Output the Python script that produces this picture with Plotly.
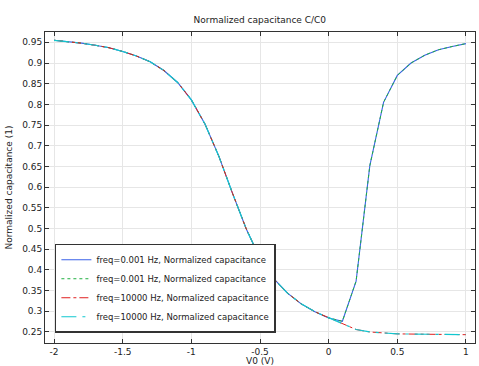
import plotly.graph_objects as go

v0 = [-2.0, -1.9, -1.8, -1.7, -1.6, -1.5, -1.4, -1.3, -1.2, -1.1, -1.0,
      -0.9, -0.8, -0.7, -0.6, -0.5, -0.4, -0.3, -0.2, -0.1, 0.0,
      0.1, 0.2, 0.3, 0.4, 0.5, 0.6, 0.7, 0.8, 0.9, 1.0]

c_low = [0.955, 0.952, 0.948, 0.943, 0.937, 0.928, 0.917, 0.903, 0.882, 0.853, 0.811,
         0.752, 0.675, 0.585, 0.499, 0.428, 0.379, 0.344, 0.318, 0.299, 0.284,
         0.276, 0.373, 0.652, 0.805, 0.870, 0.900, 0.919, 0.932, 0.940, 0.947]

c_high = [0.955, 0.952, 0.948, 0.943, 0.937, 0.928, 0.917, 0.903, 0.882, 0.853, 0.811,
          0.752, 0.675, 0.585, 0.499, 0.428, 0.379, 0.344, 0.318, 0.299, 0.284,
          0.270, 0.256, 0.250, 0.247, 0.2455, 0.245, 0.2445, 0.244, 0.2437, 0.2435]

names = ["freq=0.001 Hz, Normalized capacitance",
         "freq=0.001 Hz, Normalized capacitance",
         "freq=10000 Hz, Normalized capacitance",
         "freq=10000 Hz, Normalized capacitance"]

xticks = [-2, -1.5, -1, -0.5, 0, 0.5, 1]
xticklabels = ["-2", "-1.5", "-1", "-0.5", "0", "0.5", "1"]
yticks = [0.25, 0.3, 0.35, 0.4, 0.45, 0.5, 0.55, 0.6, 0.65, 0.7, 0.75, 0.8, 0.85, 0.9, 0.95]
yticklabels = ["0.25", "0.3", "0.35", "0.4", "0.45", "0.5", "0.55", "0.6", "0.65",
               "0.7", "0.75", "0.8", "0.85", "0.9", "0.95"]

series = [
    (c_low, "#3a62e8", "solid", 1.1),
    (c_low, "#20b040", "dot", 1.0),
    (c_high, "#e02020", "dashdot", 1.0),
    (c_high, "#10c8d0", "longdashdot", 1.2),
]

fig = go.Figure()
for (vals, col, dash, w), nm in zip(series, names):
    fig.add_trace(go.Scatter(x=v0, y=vals, mode="lines", name=nm,
                             line=dict(color=col, width=w, dash=dash)))

axis_common = dict(
    showline=True, linecolor="#333333", linewidth=1, mirror="ticks",
    ticks="inside", ticklen=4, tickcolor="#333333", automargin=False,
    showgrid=True, gridcolor="#e6e6e6", gridwidth=1, zeroline=False,
    tickfont=dict(size=9, color="#222222"),
)

fig.update_layout(
    width=479, height=366,
    margin=dict(l=45, r=4, t=32, b=23),
    paper_bgcolor="white", plot_bgcolor="white",
    font=dict(family="DejaVu Sans", size=9, color="#222222"),
    title=dict(text="Normalized capacitance C/C0", x=0.5425, xanchor="center",
               y=0.945, yanchor="middle", font=dict(size=9)),
    xaxis=dict(range=[-2.066, 1.066], tickvals=xticks, ticktext=xticklabels,
               title=dict(text="V0 (V)", standoff=0, font=dict(size=9)),
               **axis_common),
    yaxis=dict(range=[0.2234, 0.975], tickvals=yticks, ticktext=yticklabels,
               title=dict(text="Normalized capacitance (1)", standoff=8, font=dict(size=9)),
               **axis_common),
    legend=dict(x=0.023, y=0.033, xanchor="left", yanchor="bottom",
                bgcolor="white", bordercolor="#333333", borderwidth=1.5,
                font=dict(size=8.5), tracegroupgap=0, itemwidth=30),
    showlegend=True,
)

fig.write_html("out.html", config={"displayModeBar": False},
               post_script="document.body.style.margin='0';document.body.style.overflow='hidden';")
